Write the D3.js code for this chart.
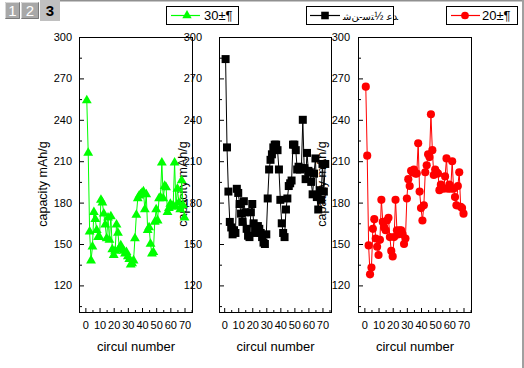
<!DOCTYPE html>
<html>
<head>
<meta charset="utf-8">
<script src="https://cdn.jsdelivr.net/npm/d3@7"></script>
<style>
  body { margin: 0; background: #fff; }
  svg { display: block; font-family: "Liberation Sans", Arial, sans-serif; }
</style>
</head>
<body>
<svg id="chart" width="524" height="368"></svg>
<script>
// values, cycle index starts at 1
const greenValues = [254, 216, 159, 138, 148, 173, 168, 160, 155, 155, 182, 180, 172, 164, 154, 169, 153, 170, 146, 142,
  145, 164, 158, 147, 149, 146, 145, 143, 144, 141, 139, 135, 136, 138, 154, 171, 183, 185, 186, 187,
  188, 175, 186, 160, 162, 150, 143, 144, 166, 175, 167, 183, 184, 209, 183, 192, 191, 173, 176, 179,
  177, 178, 209, 177, 190, 180, 175, 196, 178, 169];
const blackValues = [284, 220, 188, 166, 162, 157, 160, 158, 190, 187, 179, 172, 166, 181, 173, 161, 156, 155, 173, 179,
  165, 160, 158, 163, 161, 158, 155, 151, 150, 157, 183, 204, 211, 215, 220, 222, 222, 218, 204, 182,
  165, 158, 155, 175, 183, 192, 194, 196, 222, 222, 218, 204, 206, 204, 205, 240, 205, 197, 216, 203,
  202, 195, 186, 201, 212, 184, 175, 189, 182, 208, 188, 208];
const redValues = [264, 214, 149, 128, 133, 161, 168, 154, 148, 142, 153, 182, 166, 162, 160, 167, 169, 155, 145, 141,
  155, 182, 160, 157, 160, 160, 157, 150, 154, 183, 197, 192, 203, 202, 204, 201, 201, 223, 188, 176,
  167, 178, 202, 207, 215, 213, 244, 218, 200, 204, 202, 201, 189, 193, 191, 190, 199, 212, 190, 193,
  190, 210, 190, 184, 178, 192, 202, 177, 176, 172];

const yTicks = [120, 150, 180, 210, 240, 270, 300];
const yMinorTicks = [105, 135, 165, 195, 225, 255, 285];
const xTicks = [0, 10, 20, 30, 40, 50, 60, 70];
const xMinorTicks = [5, 15, 25, 35, 45, 55, 65, 75];
const legendLabels = ["30±¶", "ﺷﻦ-ﺳﺘ½ ﻋﺪ", "20±¶"];

const panels = [
  { values: greenValues, color: "#00ff00", symbol: d3.symbolTriangle, size: 42, left: 79, right: 193, xDomain: [-4.5, 76], labelPad: 7 },
  { values: blackValues, color: "#000000", symbol: d3.symbolSquare, size: 64, left: 219, right: 332, xDomain: [-3.7, 76.8], labelPad: 17 },
  { values: redValues, color: "#ff0000", symbol: d3.symbolCircle, size: 52, left: 358, right: 472, xDomain: [-4.5, 76], labelPad: 8 }
];
const plotTop = 37, plotBottom = 313;

const svg = d3.select("#chart");

// window chrome: page tabs and grey frame lines
svg.append("rect").attr("x", 522).attr("y", 0).attr("width", 2).attr("height", 368).attr("fill", "#a0a0a0");
svg.append("rect").attr("x", 60).attr("y", 0).attr("width", 462).attr("height", 1.5).attr("fill", "#909090");

const tabs = [
  { label: "1", x: 5, w: 15, active: false },
  { label: "2", x: 21, w: 18, active: false },
  { label: "3", x: 40, w: 20, active: true }
];
const tabGrp = svg.append("g").attr("class", "tabs");
tabs.forEach((tb) => {
  const g = tabGrp.append("g");
  if (tb.active) {
    g.append("rect").attr("x", tb.x).attr("y", 0).attr("width", tb.w).attr("height", 21).attr("fill", "#c0c0c0");
  } else {
    g.append("rect").attr("x", tb.x).attr("y", 2).attr("width", tb.w).attr("height", 17).attr("fill", "#a8a8a8");
    g.append("path").attr("d", `M${tb.x + 0.5},${18.5}V${2.5}H${tb.x + tb.w - 0.5}`)
      .attr("fill", "none").attr("stroke", "#d8d8d8");
    g.append("path").attr("d", `M${tb.x + 0.5},${18.5}H${tb.x + tb.w - 0.5}V${2.5}`)
      .attr("fill", "none").attr("stroke", "#7a7a7a");
  }
  g.append("text")
    .attr("x", tb.x + tb.w / 2)
    .attr("y", 16)
    .style("text-anchor", "middle")
    .style("font-size", "15px")
    .style("font-weight", tb.active ? "bold" : "normal")
    .style("fill", tb.active ? "#000" : "#fff")
    .text(tb.label);
});

// axes first, so the markers sit above the neighbouring axis titles
panels.forEach((p) => {
  p.x = d3.scaleLinear().domain(p.xDomain).range([p.left, p.right]);
  p.y = d3.scaleLinear().domain([100, 300]).range([plotBottom, plotTop]);

  const g = svg.append("g").attr("class", "panel-axes");

  g.append("g")
    .attr("transform", `translate(${p.left},0)`)
    .call(d3.axisLeft(p.y).tickValues(yTicks).tickSize(-5).tickPadding(p.labelPad))
    .call((a) => a.select(".domain").remove())
    .call((a) => a.selectAll("text").style("font-size", "11px").style("fill", "#000"));
  g.append("g")
    .attr("transform", `translate(${p.left},0)`)
    .call(d3.axisLeft(p.y).tickValues(yMinorTicks).tickSize(-3).tickFormat(""))
    .call((a) => a.select(".domain").remove());

  g.append("g")
    .attr("transform", `translate(0,${plotBottom})`)
    .call(d3.axisBottom(p.x).tickValues(xTicks).tickSize(-5).tickPadding(8))
    .call((a) => a.select(".domain").remove())
    .call((a) => a.selectAll("text").style("font-size", "11px").style("fill", "#000"));
  g.append("g")
    .attr("transform", `translate(0,${plotBottom})`)
    .call(d3.axisBottom(p.x).tickValues(xMinorTicks.filter((v) => v < p.xDomain[1])).tickSize(-3).tickFormat(""))
    .call((a) => a.select(".domain").remove());

  g.selectAll(".tick line").attr("stroke", "#000");

  g.append("rect")
    .attr("x", p.left + 0.5)
    .attr("y", plotTop + 0.5)
    .attr("width", p.right - p.left - 1)
    .attr("height", plotBottom - plotTop - 1)
    .attr("fill", "none")
    .attr("stroke", "#000");

  g.append("text")
    .attr("transform", `translate(${p.left - 32},${184}) rotate(-90)`)
    .style("text-anchor", "middle")
    .style("font-size", "12.5px")
    .style("fill", "#000")
    .text("capacity mAh/g");

  g.append("text")
    .attr("x", (p.left + p.right) / 2)
    .attr("y", 351)
    .style("text-anchor", "middle")
    .style("font-size", "13px")
    .style("fill", "#000")
    .text("circul number");
});

panels.forEach((p) => {
  const pts = p.values.map((v, i) => ({ cycle: i + 1, value: v }));
  const g = svg.append("g").attr("class", "panel-data");

  g.append("path")
    .datum(pts)
    .attr("fill", "none")
    .attr("stroke", p.color)
    .attr("stroke-width", 1)
    .attr("d", d3.line().x((d) => p.x(d.cycle)).y((d) => p.y(d.value)));

  g.selectAll(".marker")
    .data(pts)
    .join("path")
    .attr("class", "marker")
    .attr("transform", (d) => `translate(${p.x(d.cycle)},${p.y(d.value)})`)
    .attr("d", d3.symbol().type(p.symbol).size(p.size))
    .attr("fill", p.color);
});

// legend boxes along the top
const legendBoxes = [
  { x: 166, w: 72, lineX: [171, 200], markX: 187, textX: 204 },
  { x: 306, w: 87, lineX: [310, 340], markX: 325, textX: 343 },
  { x: 446, w: 71, lineX: [451, 480], markX: 465, textX: 482 }
];
legendBoxes.forEach((b, i) => {
  const p = panels[i];
  const g = svg.append("g").attr("class", "legend");
  g.append("rect")
    .attr("x", b.x + 0.5).attr("y", 6.5)
    .attr("width", b.w).attr("height", 18)
    .attr("fill", "#fff").attr("stroke", "#000");
  g.append("line")
    .attr("x1", b.lineX[0]).attr("x2", b.lineX[1])
    .attr("y1", 15.5).attr("y2", 15.5)
    .attr("stroke", p.color).attr("stroke-width", 1.2);
  g.append("path")
    .attr("transform", `translate(${b.markX},15.5)`)
    .attr("d", d3.symbol().type(p.symbol).size(p.size * 0.9))
    .attr("fill", p.color);
  g.append("text")
    .attr("x", b.textX).attr("y", 20)
    .style("font-size", i === 1 ? "10px" : "13px")
    .style("font-family", i === 1 ? "'DejaVu Sans', sans-serif" : null)
    .style("unicode-bidi", "bidi-override")
    .attr("direction", "ltr")
    .style("fill", "#000")
    .text(legendLabels[i]);
});
</script>
</body>
</html>
